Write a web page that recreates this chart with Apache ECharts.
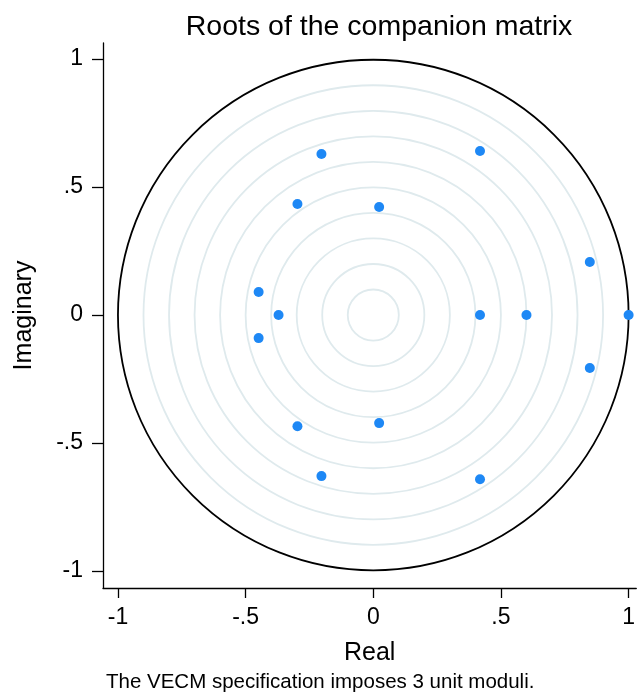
<!DOCTYPE html>
<html>
<head>
<meta charset="utf-8">
<script src="https://cdn.jsdelivr.net/npm/echarts@6/dist/echarts.min.js"></script>
<style>html,body{margin:0;padding:0;background:#fff}#c{width:638px;height:696px}</style>
</head>
<body>
<div id="c"></div>
<script>
// Eigenvalues (real, imaginary) of the companion matrix
const realParts = [1.0, 0.60, 0.418, 0.848, 0.848, 0.418, 0.418, 0.023, 0.023, -0.203, -0.203, -0.297, -0.297, -0.371, -0.449, -0.449];
const imagParts = [0.0, 0.0, 0.0, 0.207, -0.207, 0.641, -0.641, 0.422, -0.422, 0.629, -0.629, 0.434, -0.434, 0.0, 0.090, -0.090];
// Reference circles: unit circle plus guide rings
const unitRadius = [1];
const ringRadii = [0.9, 0.8, 0.7, 0.6, 0.5, 0.4, 0.3, 0.2, 0.1];
const tickValues = [-1, -0.5, 0, 0.5, 1];
const tickLabels = ['-1', '-.5', '0', '.5', '1'];

const FONT = '"Liberation Sans", Arial, Helvetica, sans-serif';
const points = realParts.map((r, i) => [r, imagParts[i]]);
function fmt(v) {
  const i = tickValues.findIndex(t => Math.abs(t - v) < 1e-9);
  return i >= 0 ? tickLabels[i] : '';
}
function circleRender(color, width) {
  return function (params, api) {
    const r = api.value(0);
    const c = api.coord([0, 0]);
    const s = api.size([r, r]);
    return {
      type: 'circle',
      shape: { cx: c[0], cy: c[1], r: s[0] },
      style: { fill: 'none', stroke: color, lineWidth: width }
    };
  };
}
const chart = echarts.init(document.getElementById('c'));
chart.setOption({
  animation: false,
  title: {
    text: 'Roots of the companion matrix',
    left: 374, top: 8, textAlign: 'center',
    textStyle: { fontFamily: FONT, fontSize: 28.5, fontWeight: 'normal', color: '#000' }
  },
  grid: { left: 103, right: 0, top: 43, bottom: 108, containLabel: false },
  xAxis: {
    type: 'value', min: -1.0586, max: 1.03,
    name: 'Real', nameLocation: 'middle', nameGap: 53,
    nameTextStyle: { fontFamily: FONT, fontSize: 25, color: '#000' },
    axisLine: { show: true, onZero: false, lineStyle: { color: '#000', width: 1.3 } },
    axisTick: { show: true, length: 10, customValues: tickValues, lineStyle: { color: '#000', width: 1.3 } },
    axisLabel: { customValues: tickValues, formatter: fmt, margin: 18, fontFamily: FONT, fontSize: 23, color: '#000' },
    splitLine: { show: false }
  },
  yAxis: {
    type: 'value', min: -1.066, max: 1.0625,
    name: 'Imaginary', nameLocation: 'middle', nameGap: 66, nameRotate: 90,
    nameTextStyle: { fontFamily: FONT, fontSize: 25, color: '#000' },
    axisLine: { show: true, onZero: false, lineStyle: { color: '#000', width: 1.3 } },
    axisTick: { show: true, length: 11, customValues: tickValues, lineStyle: { color: '#000', width: 1.3 } },
    axisLabel: { customValues: tickValues, formatter: fmt, margin: 20, fontFamily: FONT, fontSize: 23, color: '#000' },
    splitLine: { show: false }
  },
  graphic: [{
    type: 'text', left: 106, top: 672,
    style: { text: 'The VECM specification imposes 3 unit moduli.', font: '20.5px ' + FONT, fill: '#000' }
  }],
  series: [
    { type: 'custom', data: ringRadii.map(r => [r]), encode: { x: 0 }, renderItem: circleRender('#dfeaed', 1.8), silent: true, z: 1 },
    { type: 'custom', data: unitRadius.map(r => [r]), encode: { x: 0 }, renderItem: circleRender('#000', 1.8), silent: true, z: 2 },
    { type: 'scatter', data: points, symbolSize: 10, itemStyle: { color: '#1e88f5', opacity: 1 }, z: 3 }
  ]
});
</script>
</body>
</html>
